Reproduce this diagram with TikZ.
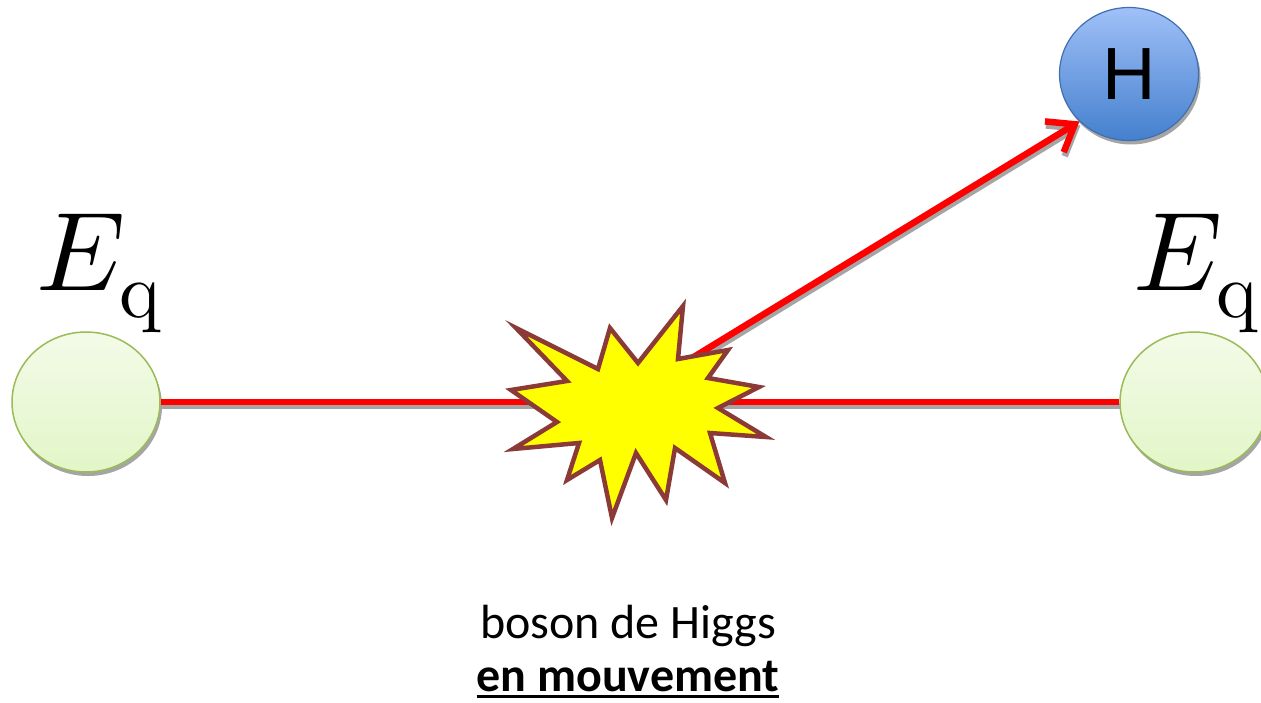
\documentclass[tikz,border=0pt]{standalone}
\usepackage{fontspec}
\usepackage{unicode-math}
\setmainfont{Carlito}
\setmathfont{Latin Modern Math}
\newfontfamily\arialfont{Liberation Sans}
\usetikzlibrary{shapes.geometric,arrows.meta,shadows}
\definecolor{redline}{RGB}{255,0,0}
\definecolor{shadowgray}{RGB}{165,165,165}
\definecolor{greenedge}{RGB}{155,187,89}
\definecolor{greentop}{RGB}{243,251,232}
\definecolor{greenbot}{RGB}{226,246,200}
\definecolor{bluetop}{RGB}{160,192,248}
\definecolor{bluebot}{RGB}{68,128,205}
\definecolor{blueedge}{RGB}{65,110,175}
\definecolor{starfill}{RGB}{255,255,0}
\definecolor{staredge}{RGB}{140,58,56}
\newcommand\thickunder[1]{\setbox0\hbox{#1}\rlap{\usebox0}\rule[-7pt]{\wd0}{3pt}}
\tikzset{
  quark/.style={ellipse, draw=greenedge, line width=1.5pt, top color=greentop, bottom color=greenbot,
    minimum width=148pt, minimum height=140pt, inner sep=0pt,
    general shadow={fill=shadowgray, shadow xshift=2pt, shadow yshift=-4pt}},
  higgs/.style={ellipse, draw=blueedge, line width=1.2pt, top color=bluetop, bottom color=bluebot,
    minimum width=139pt, minimum height=133pt, inner sep=0pt,
    font=\arialfont\fontsize{74}{74}\selectfont,
    general shadow={fill=shadowgray, shadow xshift=2pt, shadow yshift=-4pt}},
  beam/.style={draw=redline, line width=6.5pt},
  beamshadow/.style={draw=shadowgray, line width=6.5pt},
  barb/.style={-{Straight Barb[length=24pt,width=36pt]}},
  boomstar/.style={draw=staredge, fill=starfill, line width=4.5pt, line join=miter},
  energy/.style={font=\fontsize{112}{112}\selectfont, anchor=base, inner sep=0pt},
  caption/.style={font=\fontsize{48}{48}\selectfont, anchor=base, inner sep=0pt},
}
\begin{document}
\begin{tikzpicture}[x=1pt,y=-1pt]
\useasboundingbox (0,0) rectangle (1261,702);
\node[quark] (L) at (86,402) {};
\node[quark] (R) at (1194,402) {};
\node[higgs] (H) at (1129,74) {H};
\coordinate (boom) at (620,402);
% shadows of beams
\begin{scope}[transform canvas={xshift=1pt,yshift=-4pt}]
\draw[beamshadow] (L) -- (boom);
\draw[beamshadow] (boom) -- (R);
\draw[beamshadow,barb] (boom) -- (H.south west);
\end{scope}
\draw[beam] (L) -- (boom);
\draw[beam] (boom) -- (R);
\draw[beam,barb] (boom) -- (H.south west);
% explosion
\draw[boomstar] (516,328) -- (598,369) -- (610,328) -- (638,363) -- (683,306) -- (678,359)
  -- (728,350) -- (708,378) -- (759,387) -- (718,408) -- (766,437) -- (710,433)
  -- (725,483) -- (675,448) -- (666,500) -- (636,453) -- (612,518) -- (600,460)
  -- (567,480) -- (579,443) -- (513,449) -- (557,422) -- (511,390) -- (567,381) -- cycle;
% labels
\node[energy] (EL) at (100,290) {$E_{\symup{q}}$};
\node[energy] (ER) at (1197,290) {$E_{\symup{q}}$};
\node[caption] (t1) at (628,638) {boson de Higgs};
\node[caption] (t2) at (628,691) {\bfseries\thickunder{en mouvement}};
\end{tikzpicture}
\end{document}
